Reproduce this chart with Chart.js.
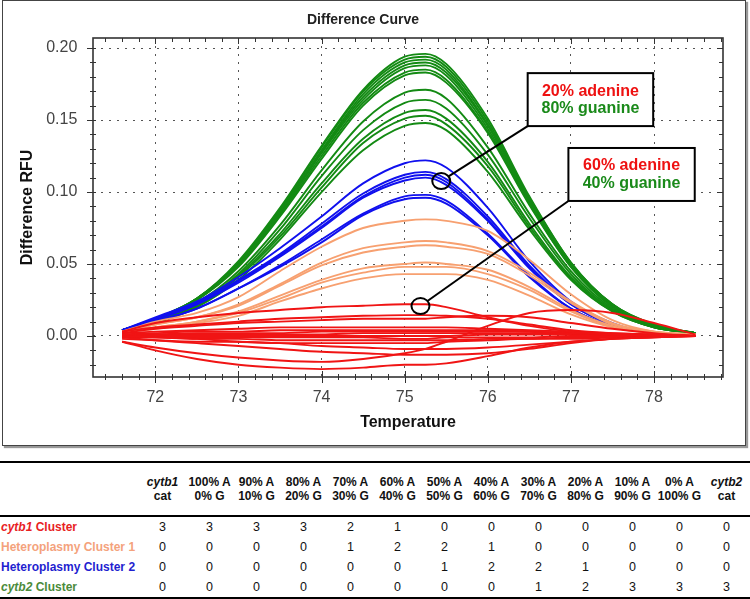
<!DOCTYPE html>
<html>
<head>
<meta charset="utf-8">
<script src="https://cdn.jsdelivr.net/npm/chart.js@4/dist/chart.umd.min.js"></script>
<style>
  html, body { margin: 0; padding: 0; background: #fff; }
  body { width: 750px; height: 599px; position: relative; overflow: hidden; font-family: "Liberation Sans", Arial, sans-serif; }
  #frame { position: absolute; left: 2px; top: 0; width: 742px; height: 444px; border: 1px solid #444; box-shadow: 2px 2px 1px #999; }
  #chart { display: block; }
  table { position: absolute; left: 0; top: 461px; width: 750px; border-collapse: collapse; table-layout: fixed; font-size: 12px; color: #111; }
  td { padding: 0; text-align: center; vertical-align: middle; line-height: 14px; }
  thead tr { border-top: 2px solid #000; border-bottom: 2px solid #000; }
  thead td { height: 52px; font-weight: bold; }
  tbody td { height: 20px; font-size: 12.5px; }
  tbody tr:last-child { border-bottom: 2px solid #000; }
  td.name { text-align: left; font-weight: bold; padding-left: 1px; font-size: 12px; }
</style>
</head>
<body>
<div id="frame"><canvas id="chart" width="742" height="444"></canvas></div>
<table id="counts"></table>
<script>
const temps = [71.6, 72.0, 72.5, 73.0, 73.5, 74.0, 74.5, 75.0, 75.25, 75.5, 76.0, 76.5, 77.0, 77.5, 78.0, 78.5];

// cytb1 cluster (red)
const cytb1Curves = [
  [0.003, 0.009, 0.013, 0.016, 0.018, 0.020, 0.021, 0.022, 0.022, 0.020, 0.013, 0.007, 0.003, 0.001, 0.000, 0.000],
  [0.003, 0.006, 0.008, 0.010, 0.012, 0.013, 0.014, 0.0145, 0.0145, 0.014, 0.012, 0.008, 0.004, 0.002, 0.001, 0.000],
  [-0.004, -0.008, -0.012, -0.015, -0.017, -0.018, -0.016, -0.012, -0.009, -0.004, 0.007, 0.016, 0.018, 0.016, 0.009, 0.001],
  [-0.004, -0.010, -0.016, -0.020, -0.022, -0.023, -0.022, -0.020, -0.020, -0.019, -0.014, -0.008, -0.004, -0.002, -0.001, 0.000],
  [-0.001, -0.003, -0.005, -0.007, -0.009, -0.011, -0.012, -0.013, -0.013, -0.013, -0.012, -0.009, -0.005, -0.002, -0.001, 0.000],
  [0.000, -0.001, -0.002, -0.004, -0.005, -0.007, -0.008, -0.009, -0.009, -0.009, -0.008, -0.006, -0.004, -0.002, -0.001, 0.000],
  [0.002, 0.005, 0.007, 0.009, 0.010, 0.011, 0.012, 0.012, 0.012, 0.013, 0.014, 0.013, 0.009, 0.005, 0.002, 0.000],
  [0.002, 0.003, 0.004, 0.005, 0.006, 0.006, 0.006, 0.006, 0.006, 0.006, 0.005, 0.004, 0.003, 0.002, 0.001, 0.000],
  [0.001, 0.002, 0.003, 0.003, 0.004, 0.004, 0.004, 0.004, 0.004, 0.004, 0.004, 0.003, 0.002, 0.001, 0.001, 0.000],
  [0.001, 0.001, 0.002, 0.002, 0.002, 0.003, 0.003, 0.003, 0.003, 0.003, 0.003, 0.003, 0.002, 0.001, 0.000, 0.000],
  [0.000, 0.001, 0.001, 0.001, 0.001, 0.001, 0.002, 0.002, 0.002, 0.002, 0.002, 0.002, 0.002, 0.001, 0.000, 0.000],
  [0.000, 0.000, 0.000, 0.000, 0.000, 0.000, 0.000, 0.000, 0.000, 0.000, 0.001, 0.001, 0.001, 0.001, 0.000, 0.000],
  [0.000, -0.001, -0.001, -0.001, -0.001, -0.001, -0.001, -0.002, -0.002, -0.001, -0.001, -0.001, 0.000, 0.000, 0.000, 0.000],
  [-0.001, -0.001, -0.002, -0.002, -0.003, -0.003, -0.003, -0.003, -0.003, -0.003, -0.002, -0.002, -0.001, -0.001, 0.000, 0.000],
  [-0.002, -0.003, -0.004, -0.004, -0.005, -0.005, -0.005, -0.005, -0.005, -0.004, -0.003, -0.002, -0.002, -0.001, 0.000, 0.000]
];

// heteroplasmy cluster 1 (salmon)
const hetero1Curves = [
  [0.003, 0.010, 0.016, 0.027, 0.045, 0.062, 0.075, 0.080, 0.081, 0.080, 0.073, 0.053, 0.029, 0.011, 0.003, 0.001],
  [0.003, 0.008, 0.013, 0.022, 0.036, 0.051, 0.061, 0.065, 0.066, 0.065, 0.059, 0.044, 0.024, 0.009, 0.003, 0.001],
  [0.003, 0.008, 0.013, 0.021, 0.035, 0.049, 0.058, 0.062, 0.063, 0.062, 0.057, 0.042, 0.023, 0.008, 0.003, 0.001],
  [0.003, 0.006, 0.010, 0.017, 0.028, 0.039, 0.047, 0.050, 0.051, 0.050, 0.046, 0.034, 0.018, 0.007, 0.002, 0.001],
  [0.003, 0.006, 0.010, 0.016, 0.026, 0.037, 0.044, 0.048, 0.048, 0.048, 0.043, 0.032, 0.017, 0.006, 0.002, 0.001],
  [0.003, 0.005, 0.009, 0.014, 0.024, 0.033, 0.040, 0.043, 0.043, 0.043, 0.039, 0.028, 0.015, 0.006, 0.002, 0.001]
];

// heteroplasmy cluster 2 (blue)
const hetero2Curves = [
  [0.004, 0.013, 0.024, 0.041, 0.061, 0.083, 0.106, 0.120, 0.122, 0.117, 0.089, 0.052, 0.024, 0.009, 0.002, 0.001],
  [0.004, 0.012, 0.023, 0.039, 0.057, 0.078, 0.099, 0.112, 0.114, 0.109, 0.083, 0.049, 0.023, 0.008, 0.002, 0.001],
  [0.004, 0.012, 0.022, 0.038, 0.056, 0.076, 0.097, 0.110, 0.112, 0.107, 0.081, 0.048, 0.022, 0.008, 0.002, 0.001],
  [0.004, 0.011, 0.022, 0.037, 0.055, 0.075, 0.096, 0.108, 0.110, 0.105, 0.080, 0.047, 0.022, 0.008, 0.002, 0.001],
  [0.004, 0.010, 0.019, 0.033, 0.049, 0.067, 0.085, 0.097, 0.098, 0.094, 0.071, 0.042, 0.019, 0.007, 0.002, 0.001],
  [0.004, 0.010, 0.019, 0.033, 0.048, 0.065, 0.084, 0.095, 0.096, 0.092, 0.070, 0.041, 0.019, 0.007, 0.002, 0.001]
];

// cytb2 cluster (green)
const cytb2Curves = [
  [0.004, 0.012, 0.026, 0.052, 0.089, 0.132, 0.171, 0.194, 0.196, 0.189, 0.151, 0.097, 0.051, 0.022, 0.008, 0.002],
  [0.004, 0.012, 0.026, 0.051, 0.088, 0.131, 0.170, 0.192, 0.194, 0.187, 0.149, 0.096, 0.051, 0.022, 0.008, 0.002],
  [0.004, 0.012, 0.026, 0.051, 0.087, 0.129, 0.168, 0.190, 0.192, 0.185, 0.147, 0.095, 0.050, 0.022, 0.007, 0.002],
  [0.004, 0.011, 0.026, 0.050, 0.086, 0.128, 0.166, 0.188, 0.190, 0.183, 0.146, 0.094, 0.050, 0.021, 0.007, 0.002],
  [0.004, 0.011, 0.025, 0.050, 0.085, 0.127, 0.164, 0.186, 0.188, 0.181, 0.144, 0.093, 0.049, 0.021, 0.007, 0.002],
  [0.004, 0.011, 0.025, 0.049, 0.084, 0.125, 0.162, 0.183, 0.185, 0.178, 0.142, 0.092, 0.048, 0.021, 0.007, 0.002],
  [0.004, 0.011, 0.025, 0.048, 0.083, 0.123, 0.160, 0.181, 0.183, 0.176, 0.141, 0.091, 0.048, 0.020, 0.007, 0.002],
  [0.004, 0.010, 0.023, 0.045, 0.077, 0.115, 0.149, 0.169, 0.171, 0.165, 0.131, 0.085, 0.045, 0.019, 0.007, 0.002],
  [0.004, 0.010, 0.022, 0.043, 0.074, 0.111, 0.143, 0.162, 0.164, 0.158, 0.126, 0.082, 0.043, 0.018, 0.006, 0.002],
  [0.004, 0.009, 0.021, 0.042, 0.071, 0.106, 0.137, 0.155, 0.157, 0.151, 0.121, 0.078, 0.041, 0.018, 0.006, 0.002],
  [0.004, 0.009, 0.021, 0.041, 0.069, 0.103, 0.134, 0.151, 0.153, 0.147, 0.118, 0.076, 0.040, 0.017, 0.006, 0.002],
  [0.004, 0.009, 0.020, 0.039, 0.067, 0.100, 0.129, 0.146, 0.148, 0.143, 0.114, 0.074, 0.039, 0.017, 0.006, 0.002]
];

// table under the chart
const mixHeads = [['cytb1', 'cat'], ['100% A', '0% G'], ['90% A', '10% G'], ['80% A', '20% G'], ['70% A', '30% G'],
  ['60% A', '40% G'], ['50% A', '50% G'], ['40% A', '60% G'], ['30% A', '70% G'], ['20% A', '80% G'],
  ['10% A', '90% G'], ['0% A', '100% G'], ['cytb2', 'cat']];
const clusterNames = ['cytb1 Cluster', 'Heteroplasmy Cluster 1', 'Heteroplasmy Cluster 2', 'cytb2 Cluster'];
const clusterCounts = [
  [3, 3, 3, 3, 2, 1, 0, 0, 0, 0, 0, 0, 0],
  [0, 0, 0, 0, 1, 2, 2, 1, 0, 0, 0, 0, 0],
  [0, 0, 0, 0, 0, 0, 1, 2, 2, 1, 0, 0, 0],
  [0, 0, 0, 0, 0, 0, 0, 0, 1, 2, 3, 3, 3]
];

const COLORS = { red: '#f01414', salmon: '#f7a070', blue: '#1010ee', green: '#138a13' };
const NAME_COLORS = ['#e8221f', '#f4a27c', '#1f1fd0', '#4b8b3b'];

const callouts = [
  { lines: ['20% adenine', '80% guanine'], x0: 76.48, x1: 77.99, y0: 0.1826, y1: 0.1458, cx: 75.44, cy: 0.1076 },
  { lines: ['60% adenine', '40% guanine'], x0: 76.97, x1: 78.49, y0: 0.1306, y1: 0.0938, cx: 75.19, cy: 0.0208 }
];

// ---- table ----
(function buildTable() {
  const tbl = document.getElementById('counts');
  const italic = s => (s === 'cytb1' || s === 'cytb2') ? `<i>${s}</i>` : s;
  let html = '<colgroup><col style="width:139px">' + mixHeads.map(() => '<col style="width:47px">').join('') + '</colgroup>';
  html += '<thead><tr><td></td>' + mixHeads.map(h => `<td>${italic(h[0])}<br>${h[1]}</td>`).join('') + '</tr></thead><tbody>';
  clusterNames.forEach((n, r) => {
    const label = n.replace(/^(cytb[12])/, '<i>$1</i>');
    html += `<tr><td class="name" style="color:${NAME_COLORS[r]}">${label}</td>` +
      clusterCounts[r].map(c => `<td>${c}</td>`).join('') + '</tr>';
  });
  tbl.innerHTML = html + '</tbody>';
})();

// ---- chart ----
const toPts = vals => vals.map((v, i) => ({ x: temps[i], y: v }));
const mkSet = (vals, color) => ({
  data: toPts(vals), borderColor: color, borderWidth: 1.9,
  pointRadius: 0, fill: false, cubicInterpolationMode: 'monotone'
});
const datasets = [
  ...cytb1Curves.map(v => mkSet(v, COLORS.red)),
  ...hetero1Curves.map(v => mkSet(v, COLORS.salmon)),
  ...hetero2Curves.map(v => mkSet(v, COLORS.blue)),
  ...cytb2Curves.map(v => mkSet(v, COLORS.green))
];

const line = (ctx, x1, y1, x2, y2) => { ctx.beginPath(); ctx.moveTo(x1, y1); ctx.lineTo(x2, y2); ctx.stroke(); };

const frameAndTicks = {
  id: 'frameAndTicks',
  afterDatasetsDraw(chart) {
    const { ctx, chartArea: a, scales: { x, y } } = chart;
    ctx.save();
    ctx.strokeStyle = '#333';
    ctx.lineWidth = 1;
    // x minor every 0.2, major every 1
    for (let k = Math.ceil(x.min * 5); k <= Math.floor(x.max * 5); k++) {
      const px = Math.round(x.getPixelForValue(k / 5)) + 0.5;
      const major = k % 5 === 0;
      line(ctx, px, a.bottom - (major ? 6 : 3), px, a.bottom + (major ? 6 : 3));
      line(ctx, px, a.top, px, a.top + (major ? 6 : 4));
    }
    // y minor every 0.01, major every 0.05
    for (let k = Math.ceil(y.min * 100); k <= Math.floor(y.max * 100); k++) {
      const py = Math.round(y.getPixelForValue(k / 100)) + 0.5;
      const major = k % 5 === 0;
      line(ctx, a.left - (major ? 6 : 3), py, a.left + 3, py);
      line(ctx, a.right - (major ? 6 : 4), py, a.right, py);
    }
    ctx.lineWidth = 1.6;
    ctx.strokeRect(a.left, a.top, a.right - a.left, a.bottom - a.top);

    // callouts
    callouts.forEach(c => {
      const bx0 = x.getPixelForValue(c.x0), bx1 = x.getPixelForValue(c.x1);
      const by0 = y.getPixelForValue(c.y0), by1 = y.getPixelForValue(c.y1);
      const ex = x.getPixelForValue(c.cx), ey = y.getPixelForValue(c.cy);
      const rx = 9, ry = 8;
      const dx = bx0 - ex, dy = by1 - ey;
      const t = 1 / Math.sqrt((dx / rx) ** 2 + (dy / ry) ** 2);
      ctx.strokeStyle = '#000';
      ctx.lineWidth = 2;
      line(ctx, bx0, by1, ex + dx * t, ey + dy * t);
      ctx.beginPath();
      ctx.ellipse(ex, ey, rx, ry, 0, 0, Math.PI * 2);
      ctx.stroke();
      ctx.fillStyle = '#fff';
      ctx.fillRect(bx0, by0, bx1 - bx0, by1 - by0);
      ctx.strokeRect(bx0, by0, bx1 - bx0, by1 - by0);
      ctx.font = 'bold 16px "Liberation Sans", Arial, sans-serif';
      ctx.textAlign = 'center';
      ctx.textBaseline = 'middle';
      const mx = (bx0 + bx1) / 2, my = (by0 + by1) / 2;
      ctx.fillStyle = '#ee1111';
      ctx.fillText(c.lines[0], mx, my - 8.5);
      ctx.fillStyle = '#1a8a1a';
      ctx.fillText(c.lines[1], mx, my + 9);
    });
    ctx.restore();
  }
};

Chart.defaults.font.family = '"Liberation Sans", Arial, sans-serif';

new Chart(document.getElementById('chart'), {
  type: 'line',
  data: { datasets },
  plugins: [frameAndTicks],
  options: {
    responsive: false,
    animation: false,
    layout: { padding: { left: 0, right: 22, top: 0, bottom: 0 } },
    plugins: {
      legend: { display: false },
      tooltip: { enabled: false },
      title: {
        display: true, text: 'Difference Curve', color: '#222',
        font: { size: 14, weight: 'bold' }, padding: { top: 10.6, bottom: 9.6 }
      }
    },
    scales: {
      x: {
        type: 'linear', min: 71.25, max: 78.83,
        afterFit: s => { s.height = 68; },
        ticks: { stepSize: 1, includeBounds: false, color: '#444', padding: 11.4, font: { size: 16 }, maxRotation: 0 },
        grid: { color: '#555', lineWidth: 1, drawTicks: false },
        border: { display: false, dash: [2, 6] },
        title: { display: true, text: 'Temperature', color: '#111', font: { size: 16, weight: 'bold' }, padding: { top: 0, bottom: 12.4 } }
      },
      y: {
        type: 'linear', min: -0.0285, max: 0.207,
        afterFit: s => { s.width = 90; },
        ticks: { stepSize: 0.05, includeBounds: false, color: '#444', padding: 15.7, font: { size: 16 }, callback: v => v.toFixed(2) },
        grid: { color: '#555', lineWidth: 1, drawTicks: false },
        border: { display: false, dash: [2, 6] },
        title: { display: true, text: 'Difference RFU', color: '#111', font: { size: 16, weight: 'bold' }, padding: { top: 15.4, bottom: 0 } }
      }
    }
  }
});
</script>
</body>
</html>
